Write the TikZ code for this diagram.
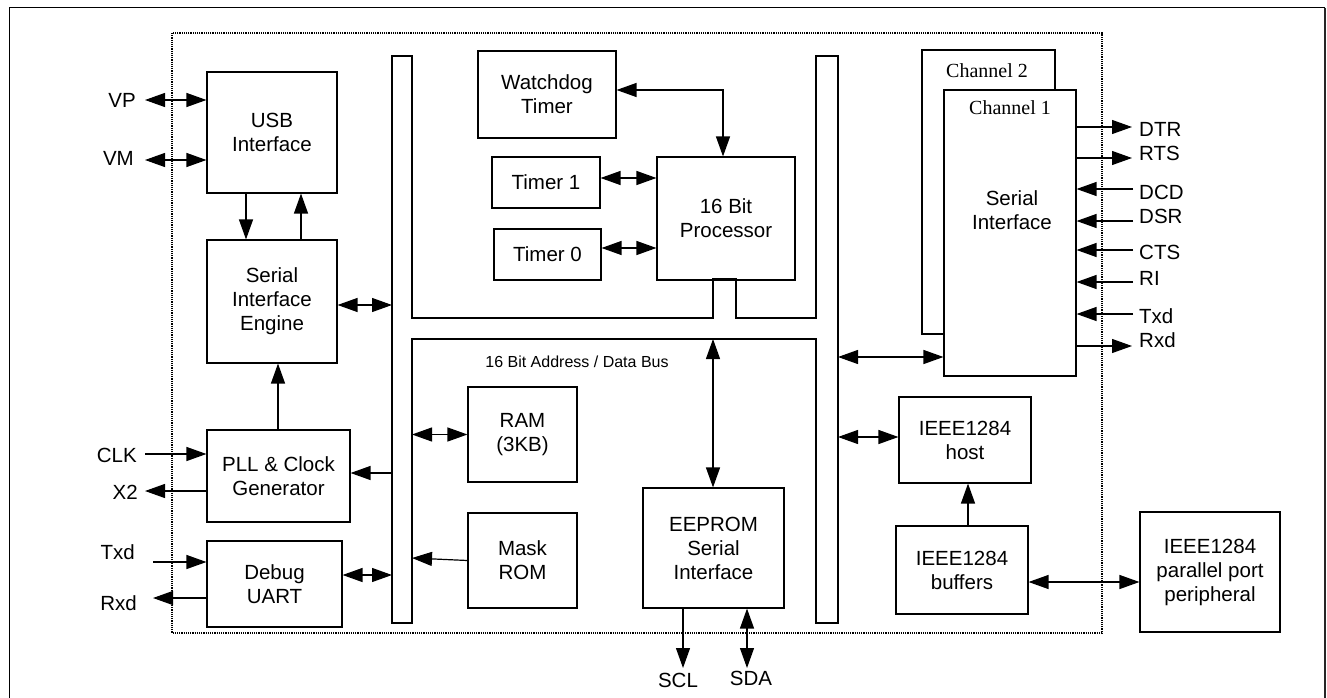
\documentclass[tikz,border=0pt]{standalone}
\usepackage{fontspec}
\setmainfont{Liberation Sans}
\newfontfamily\serifchan{Liberation Serif}
\usetikzlibrary{arrows.meta}
\tikzset{
  box/.style={draw, line width=1.1pt, align=center, inner sep=0pt, font=\fontsize{20.5}{24}\selectfont},
  lbl/.style={inner sep=0pt, font=\fontsize{20.5}{24}\selectfont},
  wire/.style={line width=1.2pt},
  sgl/.style={wire, -{Triangle[length=20pt,width=14pt]}},
  dbl/.style={wire, {Triangle[length=20pt,width=14pt]}-{Triangle[length=20pt,width=14pt]}},
  busline/.style={line width=1.1pt}
}
\begin{document}
\begin{tikzpicture}[x=1pt,y=-1pt]
\useasboundingbox (0,0) rectangle (1327,698);
% outer frame
\draw[line width=1pt] (9,705) -- (9,8) -- (1325,8);
\draw[line width=2pt, black!85] (1325,8) -- (1325,705);
% dotted frame
\draw[line width=1.2pt, densely dotted] (172,33) rectangle (1102,633);
% bus outline
\draw[busline] (392,56) -- (412,56) -- (412,318) -- (713,318) -- (713,279) -- (736,279) -- (736,318) -- (816,318) -- (816,56) -- (838,56) -- (838,623) -- (816,623) -- (816,339) -- (412,339) -- (412,623) -- (392,623) -- cycle;
\coordinate (busL) at (392,0);
\coordinate (busLi) at (412,0);
\coordinate (busR) at (838,0);
\coordinate (busB) at (0,339);
\node[font=\fontsize{16}{19}\selectfont, inner sep=0pt] (buslbl) at (577,362) {16 Bit Address / Data Bus};

% blocks
\node[box, minimum width=130, minimum height=121] (usb) at (272,132.5) {USB\\Interface};
\node[box, minimum width=130, minimum height=123] (sie) at (272,301.5) {Serial\\Interface\\Engine};
\node[box, minimum width=143, minimum height=92] (pll) at (278.5,476) {PLL \& Clock\\Generator};
\node[box, minimum width=135, minimum height=86] (dbg) at (274.5,584) {Debug\\UART};
\node[box, minimum width=138, minimum height=87] (wdt) at (547,94.5) {Watchdog\\Timer};
\node[box, minimum width=108, minimum height=51] (t1) at (546,182.5) {Timer 1};
\node[box, minimum width=107, minimum height=51] (t0) at (547.5,254.5) {Timer 0};
\node[box, minimum width=138, minimum height=123] (cpu) at (726,218.5) {16 Bit\\Processor};
\node[box, minimum width=109, minimum height=95] (ram) at (522.5,434.5) {RAM\\(3KB)};
\node[box, minimum width=109, minimum height=95] (rom) at (522.5,560.5) {Mask\\ROM};
\node[box, minimum width=141, minimum height=120] (eep) at (713.5,548) {EEPROM\\Serial\\Interface};
\node[box, fill=white, minimum width=133, minimum height=284] (ch2) at (988.5,192) {};
\node[font=\serifchan\fontsize{20}{24}\selectfont, inner sep=0pt] (ch2l) at (987,71) {Channel 2};
\node[box, fill=white, minimum width=132, minimum height=286] (ch1) at (1010,233) {};
\node[font=\serifchan\fontsize{20}{24}\selectfont, inner sep=0pt] (ch1l) at (1010,108) {Channel 1};
\node[lbl, align=center] (sil) at (1012,210) {Serial\\Interface};
\node[box, minimum width=132, minimum height=86] (host) at (965,440) {IEEE1284\\host};
\node[box, minimum width=132, minimum height=88] (buf) at (962,570) {IEEE1284\\buffers};
\node[box, minimum width=140, minimum height=120] (per) at (1210,572) {IEEE1284\\parallel port\\peripheral};

% left labels
\node[lbl, anchor=east] (vp) at (136,100) {VP};
\node[lbl, anchor=east] (vm) at (134,158) {VM};
\node[lbl, anchor=east] (clk) at (137,455) {CLK};
\node[lbl, anchor=east] (x2) at (138,492) {X2};
\node[lbl, anchor=east] (dtx) at (135,552) {Txd};
\node[lbl, anchor=east] (drx) at (137,603) {Rxd};
\coordinate (vpe) at (145,100);
\coordinate (vme) at (145,160);
\coordinate (clke) at (145,454);
\coordinate (x2e) at (145,491);
\coordinate (dtxe) at (153,562);
\coordinate (drxe) at (153,598);

\draw[dbl] (vpe) -- (usb.west |- vpe);
\draw[dbl] (vme) -- (usb.west |- vme);
\draw[sgl] (usb.south -| 246,0) -- (sie.north -| 246,0);
\draw[sgl] (sie.north -| 301,0) -- (usb.south -| 301,0);
\draw[dbl] (sie.east |- 0,305) -- (busL |- 0,305);
\draw[sgl] (pll.north -| 278,0) -- (sie.south -| 278,0);
\draw[sgl] (clke) -- (pll.west |- clke);
\draw[sgl] (pll.west |- x2e) -- (x2e);
\draw[sgl] (busL |- 0,473) -- (pll.east |- 0,473);
\draw[sgl] (dtxe) -- (dbg.west |- dtxe);
\draw[sgl] (dbg.west |- drxe) -- (drxe);
\draw[dbl] (dbg.east |- 0,575) -- (busL |- 0,575);

% processor area
\draw[dbl] (wdt.east |- 0,90) -- (723,90) -- (cpu.north -| 723,0);
\draw[dbl] (t1.east |- 0,178) -- (cpu.west |- 0,178);
\draw[dbl] (t0.east |- 0,248) -- (cpu.west |- 0,248);

% lower bus area
\draw[dbl] (busLi |- ram.west) -- (ram.west);
\draw[sgl] (rom.west) -- (busLi |- 0,558);
\draw[dbl] (busB -| 713,0) -- (eep.north -| 713,0);
\coordinate (scle) at (683,668);
\coordinate (sdae) at (747,668);
\draw[sgl] (eep.south -| scle) -- (scle);
\draw[dbl] (eep.south -| sdae) -- (sdae);
\node[lbl] (scl) at (678,680) {SCL};
\node[lbl] (sda) at (751,678) {SDA};

% right side
\draw[dbl] (busR |- 0,357) -- (ch1.west |- 0,357);
\draw[dbl] (busR |- 0,437) -- (host.west |- 0,437);
\draw[sgl] (buf.north -| 968,0) -- (host.south -| 968,0);
\draw[dbl] (buf.east |- 0,582) -- (per.west |- 0,582);

% channel 1 signals
\coordinate (edtr) at (1132,127);
\coordinate (erts) at (1132,158);
\coordinate (edcd) at (1133,189);
\coordinate (edsr) at (1133,221);
\coordinate (ects) at (1133,250);
\coordinate (eri) at (1133,282);
\coordinate (etxd) at (1133,314);
\coordinate (erxd) at (1132,346);
\draw[sgl] (ch1.east |- edtr) -- (edtr);
\draw[sgl] (ch1.east |- erts) -- (erts);
\draw[sgl] (edcd) -- (ch1.east |- edcd);
\draw[sgl] (edsr) -- (ch1.east |- edsr);
\draw[sgl] (ects) -- (ch1.east |- ects);
\draw[sgl] (eri) -- (ch1.east |- eri);
\draw[sgl] (etxd) -- (ch1.east |- etxd);
\draw[sgl] (ch1.east |- erxd) -- (erxd);
\node[lbl, anchor=west] (dtr) at (1139,129) {DTR};
\node[lbl, anchor=west] (rts) at (1139,153) {RTS};
\node[lbl, anchor=west] (dcd) at (1139,192) {DCD};
\node[lbl, anchor=west] (dsr) at (1139,216) {DSR};
\node[lbl, anchor=west] (cts) at (1139,252) {CTS};
\node[lbl, anchor=west] (ri) at (1139,278) {RI};
\node[lbl, anchor=west] (txd) at (1139,316) {Txd};
\node[lbl, anchor=west] (rxd) at (1139,340) {Rxd};
\end{tikzpicture}
\end{document}
